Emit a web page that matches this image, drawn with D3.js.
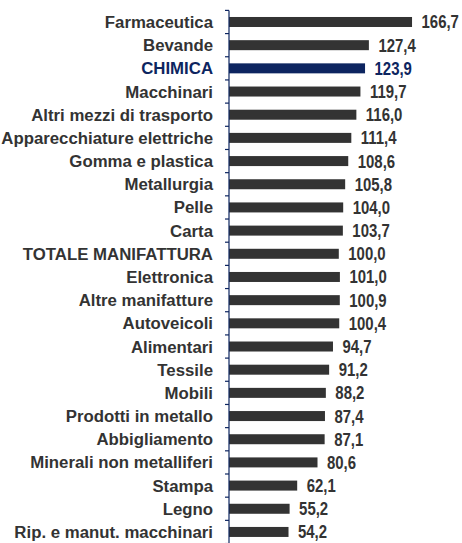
<!DOCTYPE html>
<html>
<head>
<meta charset="utf-8">
<script src="https://cdn.jsdelivr.net/npm/d3@7"></script>
<style>
  body { margin: 0; background: #fff; }
  svg { display: block; }
</style>
</head>
<body>
<svg id="chart" width="462" height="543"></svg>
<script>
// settori e valori (indice)
const sectors = ['Farmaceutica', 'Bevande', 'CHIMICA', 'Macchinari', 'Altri mezzi di trasporto',
  'Apparecchiature elettriche', 'Gomma e plastica', 'Metallurgia', 'Pelle', 'Carta',
  'TOTALE MANIFATTURA', 'Elettronica', 'Altre manifatture', 'Autoveicoli', 'Alimentari',
  'Tessile', 'Mobili', 'Prodotti in metallo', 'Abbigliamento', 'Minerali non metalliferi',
  'Stampa', 'Legno', 'Rip. e manut. macchinari']
const values = [166.7, 127.4, 123.9, 119.7, 116.0, 111.4, 108.6, 105.8, 104.0, 103.7,
  100.0, 101.0, 100.9, 100.4, 94.7, 91.2, 88.2, 87.4, 87.1, 80.6, 62.1, 55.2, 54.2]
const highlight = 'CHIMICA'
const subtitle = '(indici di produzione, valori medi , base 100)'

const data = sectors.map((s, i) => ({ name: s, value: values[i] }))

const svg = d3.select('#chart')
const axisX = 229
const navy = '#0d2560'
const grey = '#333333'

const y = d3.scaleBand()
  .domain(sectors)
  .range([10.4, 10.4 + sectors.length * 23.18])
  .padding(0)

const x = d3.scaleLinear()
  .domain([0, 200])
  .range([axisX, axisX + 219.6])

const barH = 10

// riga sottotitolo tagliata in alto: si vedono solo le parentesi
svg.append('text')
  .attr('x', 14)
  .attr('y', -3)
  .attr('textLength', 432)
  .attr('lengthAdjust', 'spacing')
  .style('font-family', '"Liberation Sans", Arial, sans-serif')
  .style('font-size', '15px')
  .attr('fill', grey)
  .text(subtitle)

// barre
svg.append('g')
  .selectAll('rect')
  .data(data)
  .enter().append('rect')
    .attr('x', x(0))
    .attr('y', d => y(d.name) + y.bandwidth() / 2 - barH / 2)
    .attr('width', d => x(d.value) - x(0))
    .attr('height', barH)
    .attr('fill', d => d.name === highlight ? navy : grey)

// etichette categorie
svg.append('g')
  .selectAll('text')
  .data(data)
  .enter().append('text')
    .attr('x', 213)
    .attr('y', d => y(d.name) + y.bandwidth() / 2)
    .attr('dy', '0.36em')
    .attr('text-anchor', 'end')
    .style('font-family', '"Liberation Sans", Arial, sans-serif')
    .style('font-weight', 'bold')
    .style('font-size', '16.8px')
    .attr('fill', d => d.name === highlight ? navy : grey)
    .text(d => d.name)

// valori (carattere stretto: compressione orizzontale)
svg.append('g')
  .selectAll('text')
  .data(data)
  .enter().append('text')
    .attr('transform', d => `translate(${x(d.value) + 9.5},${y(d.name) + y.bandwidth() / 2}) scale(0.83,1)`)
    .attr('dy', '0.36em')
    .style('font-family', '"Liberation Sans", Arial, sans-serif')
    .style('font-weight', 'bold')
    .style('font-size', '18px')
    .attr('fill', d => d.name === highlight ? navy : grey)
    .text(d => d3.format('.1f')(d.value).replace('.', ','))

// asse verticale con tacche tra le righe
const axis = svg.append('g')
axis.append('line')
  .attr('x1', axisX).attr('x2', axisX)
  .attr('y1', y.range()[0]).attr('y2', 543)
  .attr('stroke', navy).attr('stroke-width', 1.2)

const bounds = sectors.map(s => y(s)).concat([y.range()[1]])
axis.selectAll('.tick')
  .data(bounds)
  .enter().append('line')
    .attr('class', 'tick')
    .attr('x1', axisX - 4).attr('x2', axisX)
    .attr('y1', d => d).attr('y2', d => d)
    .attr('stroke', navy).attr('stroke-width', 1.2)
</script>
</body>
</html>
